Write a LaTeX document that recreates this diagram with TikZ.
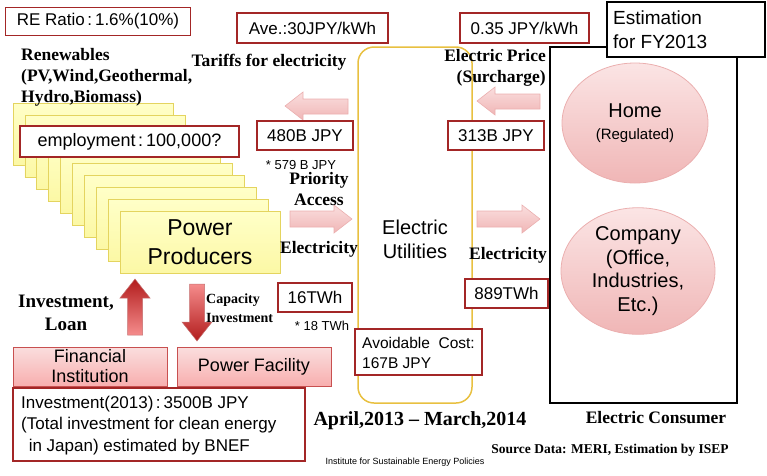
\documentclass[tikz,border=0pt]{standalone}
\usepackage{fontspec}
\usetikzlibrary{shapes.geometric}
\setmainfont{Liberation Serif}
\setsansfont{Liberation Sans}
\newcommand\fwc{\hspace{2.5pt}:\hspace{3pt}}
\definecolor{boxred}{RGB}{163,38,38}
\definecolor{uyellow}{RGB}{232,192,64}
\definecolor{ybord}{RGB}{228,212,95}
\definecolor{yfillA}{RGB}{255,255,200}
\definecolor{yfillB}{RGB}{252,248,165}
\definecolor{pinkA}{RGB}{250,222,222}
\definecolor{pinkB}{RGB}{240,182,182}
\definecolor{pinkbord}{RGB}{235,175,175}
\definecolor{darkr}{RGB}{178,28,28}
\definecolor{lightr}{RGB}{245,140,140}
\definecolor{pboxbord}{RGB}{200,80,80}
\begin{document}
\begin{tikzpicture}[x=1pt,y=-1pt,
  redbox/.style={draw=boxred, line width=1.8pt, fill=white, inner sep=0pt,
    font=\sffamily\fontsize{17}{20}\selectfont},
  lbl/.style={font=\bfseries\fontsize{17.5}{21}\selectfont, inner sep=0pt},
  sanslbl/.style={font=\sffamily\fontsize{20}{24}\selectfont, inner sep=0pt, align=center},
  ybox/.style={draw=ybord, line width=0.8pt, top color=yfillA, bottom color=yfillB,
    minimum width=160, minimum height=62, inner sep=0pt},
  pbox/.style={draw=pboxbord, line width=0.8pt, top color=pinkA, bottom color=lightr!70!white,
    minimum width=154, minimum height=39, inner sep=0pt, align=center,
    font=\sffamily\fontsize{18}{20}\selectfont},
  blockarrow/.style={draw=pinkbord, line width=0.6pt, top color=pinkA, bottom color=pinkB},
  ellip/.style={ellipse, draw=pinkbord, line width=0.8pt, top color=pinkA!80!white, bottom color=pinkB,
    inner sep=0pt, align=center, font=\sffamily\fontsize{20}{24}\selectfont}
]
\useasboundingbox (0,0) rectangle (767,475);

% stacked power producers
\foreach \i in {0,...,8}
  \node[ybox] (pp\i) at ({93+11.9*\i},{134+12*\i}) {};
\node[ybox, font=\sffamily\fontsize{23}{29}\selectfont, align=center] (pp9) at (200,242) {Power\\Producers};

% top boxes
\node[redbox, minimum width=185, minimum height=28] (re) at (98,21.5) {RE Ratio\fwc 1.6\%(10\%)};
\node[redbox, minimum width=151, minimum height=30] (ave) at (312.5,28) {Ave.:30JPY/kWh};
\node[redbox, minimum width=129, minimum height=30] (price) at (524.5,28) {0.35 JPY/kWh};

% utilities and consumer frames
\node[draw=uyellow, line width=1.5pt, rounded corners=16pt, minimum width=114, minimum height=356, inner sep=0pt] (util) at (415,225) {};
\node[draw=black, line width=1.8pt, minimum width=187, minimum height=356, inner sep=0pt] (cons) at (643.5,225) {};
\node[draw=black, line width=1.8pt, fill=white, minimum width=158, minimum height=55, inner sep=0pt] (est) at (686,29.5) {};
\node[anchor=west, align=left, inner sep=0pt, font=\sffamily\fontsize{19}{24}\selectfont] (esttext) at (613,30) {Estimation\\for FY2013};

% ellipses
\node[ellip, minimum width=146, minimum height=120] (home) at (635,123) {Home\\[-2pt]{\fontsize{15}{18}\selectfont(Regulated)}};
\node[ellip, minimum width=154, minimum height=118, font=\sffamily\fontsize{20}{23.8}\selectfont] (comp) at (638,271) {Company\\(Office,\\Industries,\\Etc.)};

% utilities text
\node[sanslbl] (utext) at (415,239) {Electric\\Utilities};

% block arrows
\draw[blockarrow] (285,106) -- (303,92) -- (303,99) -- (348,99) -- (348,114) -- (303,114) -- (303,120) -- cycle;
\draw[blockarrow] (352,219) -- (334,205) -- (334,211) -- (290,211) -- (290,227) -- (334,227) -- (334,233) -- cycle;
\draw[blockarrow] (477,101) -- (495,87) -- (495,94) -- (540,94) -- (540,109) -- (495,109) -- (495,115) -- cycle;
\draw[blockarrow] (540,219) -- (522,205) -- (522,211) -- (477,211) -- (477,227) -- (522,227) -- (522,233) -- cycle;

% vertical arrows
\draw[draw=lightr!80!black, line width=0.5pt, top color=darkr, bottom color=lightr]
  (135,279) -- (150,298) -- (142.5,298) -- (142.5,335) -- (127.5,335) -- (127.5,298) -- (120,298) -- cycle;
\draw[draw=lightr!80!black, line width=0.5pt, top color=lightr, bottom color=darkr]
  (197,341) -- (212,322) -- (204.5,322) -- (204.5,284) -- (189.5,284) -- (189.5,322) -- (182,322) -- cycle;

% red value boxes
\node[redbox, minimum width=219, minimum height=31, font=\sffamily\fontsize{18}{20}\selectfont] (emp) at (129.5,141.5) {employment\fwc 100,000?};
\node[redbox, minimum width=96, minimum height=29] (b480) at (305,135.5) {480B JPY};
\node[redbox, minimum width=96, minimum height=29] (b313) at (496,135.5) {313B JPY};
\node[redbox, minimum width=74, minimum height=29] (t16) at (315,297.5) {16TWh};
\node[redbox, minimum width=83, minimum height=29] (t889) at (506.5,293.5) {889TWh};
\node[redbox, minimum width=127, minimum height=46] (avoid) at (418.5,352) {};
\node[anchor=west, align=left, inner sep=0pt, font=\sffamily\fontsize{15.5}{20}\selectfont] (avoidtext) at (362,353) {Avoidable\ \ Cost:\\167B JPY};

% pink boxes
\node[pbox] (fin) at (90,366.5) {Financial\\Institution};
\node[pbox] (fac) at (254,366.5) {Power Facility};

% investment box
\node[redbox, minimum width=292, minimum height=73] (inv) at (159,424.5) {};
\node[anchor=west, align=left, inner sep=0pt, font=\sffamily\fontsize{17}{21.5}\selectfont] (invtext) at (21,425.5)
  {Investment(2013)\fwc 3500B JPY\\(Total investment for clean energy\\\ \,in Japan) estimated by BNEF};

% bold serif labels
\node[lbl, anchor=west, align=left] (renew) at (21,77) {Renewables\\(PV,Wind,Geothermal,\\Hydro,Biomass)};
\node[lbl] (tariff) at (269,62) {Tariffs for electricity};
\node[lbl, align=center] (prio) at (319,189) {Priority\\Access};
\node[lbl] (elecL) at (319,249) {Electricity};
\node[lbl, anchor=east, align=right] (eprice) at (546,68) {Electric Price\\(Surcharge)};
\node[lbl] (elecR) at (508,255) {Electricity};
\node[lbl, align=center, font=\bfseries\fontsize{19}{23}\selectfont] (invlbl) at (66,313) {Investment,\\Loan};
\node[lbl, anchor=west, align=left, font=\bfseries\fontsize{14}{19}\selectfont] (capinv) at (206,308.5) {Capacity\\Investment};
\node[lbl, font=\bfseries\fontsize{20}{24}\selectfont] (period) at (420,421) {April,2013 -- March,2014};
\node[lbl, font=\bfseries\fontsize{17.5}{21}\selectfont] (econs) at (656,418) {Electric Consumer};
\node[lbl, font=\bfseries\fontsize{13.5}{16}\selectfont] (src) at (610,450) {Source Data: MERI, Estimation by ISEP};

% small notes
\node[inner sep=0pt, font=\sffamily\fontsize{13}{15}\selectfont] (n579) at (301,165) {* 579 B JPY};
\node[inner sep=0pt, font=\sffamily\fontsize{13}{15}\selectfont] (n18) at (322,326) {* 18 TWh};
\node[inner sep=0pt, font=\sffamily\fontsize{9}{11}\selectfont] (isep) at (405,462) {Institute for Sustainable Energy Policies};
\end{tikzpicture}
\end{document}
